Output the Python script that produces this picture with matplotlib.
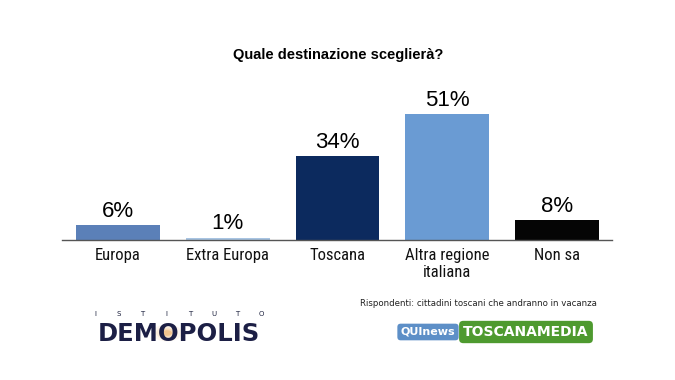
import matplotlib
matplotlib.use("Agg")
import matplotlib.pyplot as plt
from matplotlib import font_manager

categories = ["Europa", "Extra Europa", "Toscana", "Altra regione\nitaliana", "Non sa"]
values = [6, 1, 34, 51, 8]
colors = ["#5b80b8", "#a8c4e2", "#0c2a5e", "#6a9bd3", "#050505"]

names = {f.name for f in font_manager.fontManager.ttflist}
narrow = "Liberation Sans"
for cand in ["Liberation Sans Narrow", "Roboto Condensed", "Open Sans Condensed", "Roboto"]:
    if cand in names:
        narrow = cand
        break

fig = plt.figure(figsize=(6.75, 3.8), dpi=100)
W, H = 675, 380

# axes placed in pixel coordinates: baseline at y=240, x from 62 to 612
ax = fig.add_axes([62 / W, (380 - 240) / H, 550 / W, 140 / H])
x = range(len(categories))
ax.bar(x, values, width=0.764, color=colors)
ax.set_xlim(-0.51, 4.5)
ax.set_ylim(0, 56.7)
for s in ["top", "right", "left"]:
    ax.spines[s].set_visible(False)
ax.spines["bottom"].set_color("#555555")
ax.spines["bottom"].set_linewidth(1.0)
ax.set_yticks([])
ax.set_xticks(list(x))
ax.set_xticklabels(categories, fontsize=12, family=narrow, linespacing=1.1,
                   color="#111111")
ax.tick_params(axis="x", length=0, pad=6)

for xi, v in zip(x, values):
    ax.text(xi, v + 1.4, f"{v}%", ha="center", va="bottom", fontsize=16,
            family="Liberation Sans")

fig.text(338 / W, 1 - 55 / H, "Quale destinazione sceglierà?", ha="center",
         va="center", fontsize=10.5, fontweight="bold", family="Liberation Sans")

fig.text(360 / W, 1 - 304 / H, "Rispondenti: cittadini toscani che andranno in vacanza",
         ha="left", va="center", fontsize=6.2, family="DejaVu Sans", color="#222222")

# Demopolis logo
for r, a in [(15, 0.07), (11, 0.1), (8, 0.18), (5, 0.3)]:
    fig.patches.append(plt.Circle((167 / W, 1 - 333 / H), r / W, transform=fig.transFigure,
                                  color="#e8902a", alpha=a, ec="none"))
istituto = "ISTITUTO"
for i, ch in enumerate(istituto):
    fig.text((95 + i * 166 / 7) / W, 1 - 314 / H, ch, ha="center", va="center",
             fontsize=5, family="DejaVu Sans", color="#1a1f3c")
fig.text(179 / W, 1 - 341 / H, "DEMOPOLIS", ha="center", va="baseline", fontsize=17.5,
         fontweight="bold", family="DejaVu Sans", color="#1c1f45")

# QUInews / TOSCANAMEDIA logos
fig.text(428 / W, 1 - 332 / H, "QUInews", ha="center", va="center", fontsize=8,
         fontweight="bold", color="white", family="DejaVu Sans Condensed",
         bbox=dict(boxstyle="round,pad=0.3", fc="#5d8fc7", ec="none"))
fig.text(526 / W, 1 - 332 / H, "TOSCANAMEDIA", ha="center", va="center", fontsize=10,
         fontweight="bold", color="white", family="DejaVu Sans Condensed",
         bbox=dict(boxstyle="round,pad=0.3", fc="#4e9a2f", ec="none"))

fig.savefig("out.png", dpi=100, facecolor="white")
